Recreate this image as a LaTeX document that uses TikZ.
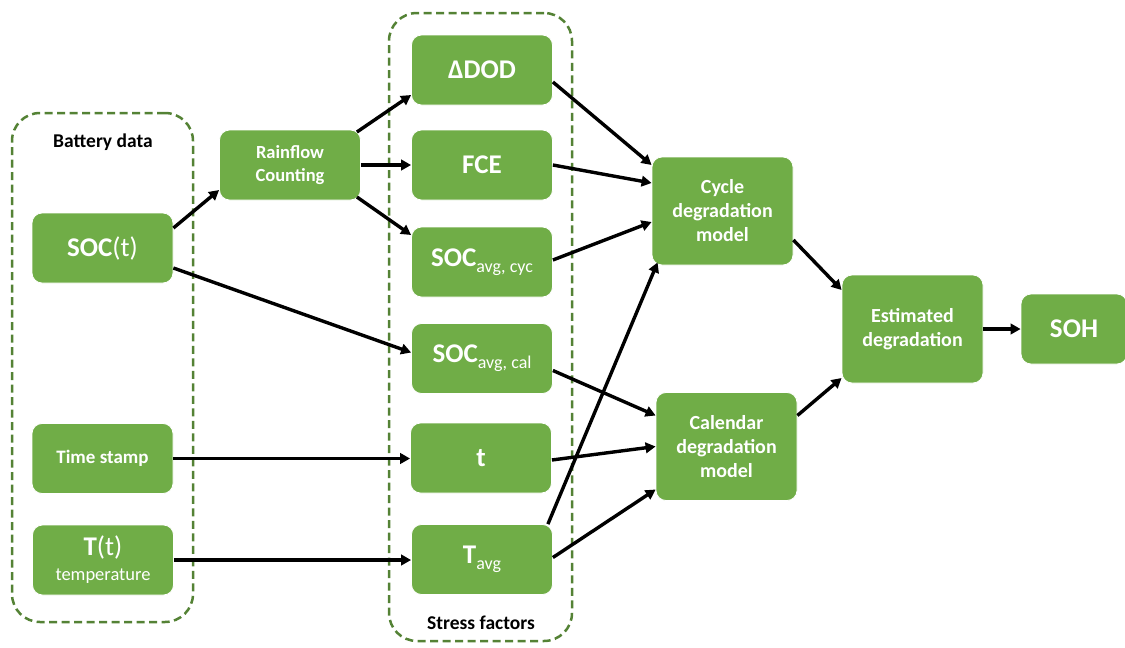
\documentclass[tikz,border=0pt]{standalone}
\usepackage{fontspec}
\setmainfont{Carlito}
\usetikzlibrary{arrows.meta,calc}
\definecolor{boxgreen}{HTML}{70AD47}
\definecolor{dashgreen}{HTML}{548235}
\newcommand\myBig{\fontsize{27}{30}\selectfont}
\newcommand\mySub[1]{\raisebox{-6pt}{\fontsize{18}{20}\selectfont\mdseries #1}}
\begin{document}
\begin{tikzpicture}[x=1pt,y=-1pt,
  gbox/.style={fill=boxgreen, draw=white, line width=0.8pt, rounded corners=10pt,
    text=white, font=\bfseries, align=center, inner sep=0pt,
    minimum width=141pt, minimum height=70pt},
  tallbox/.style={gbox, minimum height=108pt, font=\bfseries\fontsize{20}{24}\selectfont},
  group/.style={draw=dashgreen, line width=2.5pt, dash pattern=on 8pt off 4.5pt,
    rounded corners=28pt, inner sep=0pt},
  grouplabel/.style={font=\bfseries\fontsize{19.5}{22}\selectfont, text=black},
  arr/.style={line width=3.4pt, -{Triangle[length=10pt,width=10.5pt]}}]
\useasboundingbox (0,0) rectangle (1125,648);
% groups
\node[group, minimum width=181pt, minimum height=509pt] (battery) at (102.5,367.5) {};
\node[group, minimum width=183pt, minimum height=628pt] (stress) at (480.5,327) {};
\node[grouplabel] (batterylabel) at (103,142) {Battery data};
\node[grouplabel] (stresslabel) at (481,623) {Stress factors};
% battery data
\node[gbox] (soct) at (102.5,248) {\myBig SOC\mdseries(t)};
\node[gbox, font=\bfseries\fontsize{19}{22}\selectfont] (time) at (102.5,458.5) {Time stamp};
\node[gbox, font=\mdseries\fontsize{18.5}{25}\selectfont] (temp) at (103,560) {{\myBig\textbf{T}(t)}\\temperature};
% rainflow
\node[gbox, font=\bfseries\fontsize{18.5}{23}\selectfont] (rain) at (290,165) {Rainflow\\Counting};
% stress factors
\node[gbox, font=\bfseries\myBig] (dod) at (482,70) {ΔDOD};
\node[gbox, font=\bfseries\myBig] (fce) at (482,165) {FCE};
\node[gbox, font=\bfseries\myBig] (soccyc) at (482,262) {SOC\mySub{avg, cyc}};
\node[gbox, font=\bfseries\myBig] (soccal) at (482,358.5) {SOC\mySub{avg, cal}};
\node[gbox, font=\bfseries\myBig] (t) at (481,458) {t};
\node[gbox, font=\bfseries\myBig] (tavg) at (482,559.5) {T\mySub{avg}};
% models
\node[tallbox] (cycle) at (722.5,211) {Cycle\\degradation\\model};
\node[tallbox] (cal) at (726.5,446.5) {Calendar\\degradation\\model};
\node[tallbox] (est) at (912.5,329) {Estimated\\degradation};
\node[gbox, font=\bfseries\myBig, minimum width=106pt] (soh) at (1074,329) {SOH};
% connectors
\draw[arr] ($(soct.east)+(0,-20)$) -- ($(rain.west)+(0,25)$);
\draw[arr] ($(soct.east)+(0,20)$) -- ($(soccal.west)+(0,-6)$);
\draw[arr] ($(rain.east)+(-4,-33)$) -- ($(dod.west)+(0,25)$);
\draw[arr] (rain.east) -- (fce.west);
\draw[arr] ($(rain.east)+(-4,32)$) -- ($(soccyc.west)+(0,-27)$);
\draw[arr] (time.east) -- (time.east -| t.west);
\draw[arr] (temp.east) -- (temp.east -| tavg.west);
\draw[arr] ($(dod.east)+(0,12)$) -- ($(cycle.west)+(0,-46)$);
\draw[arr] (fce.east) -- ($(cycle.west)+(0,-28)$);
\draw[arr] ($(soccyc.east)+(0,-2)$) -- ($(cycle.west)+(0,11)$);
\draw[arr] ($(tavg.north east)+(-5,0)$) -- ($(cycle.south west)+(6,-3)$);
\draw[arr] ($(soccal.east)+(0,12)$) -- ($(cal.west)+(0,-31)$);
\draw[arr] ($(t.east)+(0,2)$) -- (cal.west);
\draw[arr] ($(tavg.east)+(0,-2)$) -- ($(cal.west)+(0,43)$);
\draw[arr] ($(cycle.east)+(0,29)$) -- ($(est.west)+(0,-39)$);
\draw[arr] ($(cal.east)+(0,-31)$) -- ($(est.west)+(0,49)$);
\draw[arr] (est.east) -- (soh.west);
\end{tikzpicture}
\end{document}
